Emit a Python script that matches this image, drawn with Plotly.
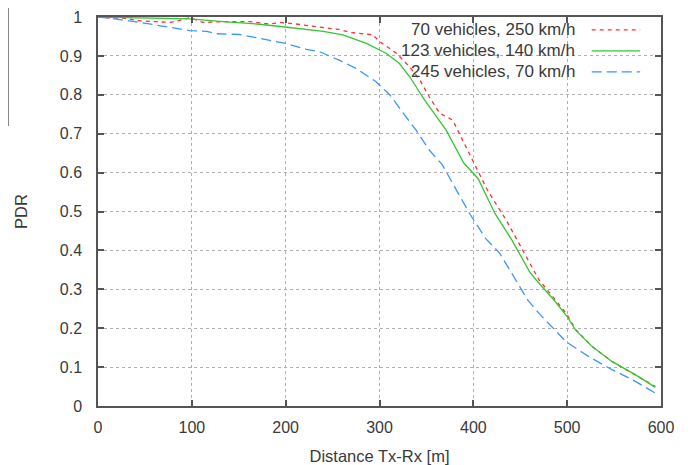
import plotly.graph_objects as go

# ---- data ----
red_x = [0, 10, 27, 45, 62, 77, 90, 98, 112, 133, 162, 183, 194, 211, 240, 257, 270, 282, 293, 300,
         318, 332, 343, 353, 364, 378, 399, 415, 435, 456, 470, 485, 499, 509, 527, 548, 573, 594]
red_y = [1.0, 0.998, 0.997, 0.99, 0.988, 0.986, 0.993, 0.998, 0.986, 0.988, 0.988, 0.982, 0.986, 0.982,
         0.973, 0.968, 0.96, 0.956, 0.954, 0.937, 0.907, 0.872, 0.838, 0.795, 0.753, 0.735, 0.632,
         0.555, 0.478, 0.384, 0.324, 0.28, 0.238, 0.197, 0.152, 0.114, 0.08, 0.05]

green_x = [0, 20, 43, 70, 98, 133, 169, 197, 222, 240, 261, 286, 307, 321, 332, 343, 348, 371, 390,
           405, 423, 441, 460, 467, 485, 500, 509, 527, 548, 573, 594]
green_y = [1.0, 0.999, 0.998, 0.997, 0.995, 0.988, 0.982, 0.975, 0.969, 0.963, 0.954, 0.932, 0.907,
           0.881, 0.847, 0.804, 0.787, 0.709, 0.624, 0.585, 0.495, 0.427, 0.345, 0.324, 0.275, 0.23,
           0.195, 0.152, 0.114, 0.08, 0.048]

blue_x = [0, 9, 45, 98, 116, 126, 151, 176, 200, 222, 236, 257, 275, 296, 311, 328, 339, 353, 367,
          382, 397, 413, 428, 442, 458, 470, 499, 523, 545, 570, 594]
blue_y = [1.0, 0.998, 0.986, 0.965, 0.963, 0.957, 0.955, 0.943, 0.932, 0.917, 0.911, 0.889, 0.868,
          0.834, 0.8, 0.744, 0.709, 0.658, 0.62, 0.555, 0.491, 0.431, 0.393, 0.337, 0.272, 0.238,
          0.165, 0.127, 0.097, 0.067, 0.033]

series_names = ["70 vehicles, 250 km/h", "123 vehicles, 140 km/h", "245 vehicles, 70 km/h"]
series_colors = ["#ff3030", "#33c833", "#3a95ff"]
series_dash = ["4px,4px", "solid", "10px,5px"]

x_ticks = [0, 100, 200, 300, 400, 500, 600]
y_ticks = [0, 0.1, 0.2, 0.3, 0.4, 0.5, 0.6, 0.7, 0.8, 0.9, 1]
y_tick_text = ["0", "0.1", "0.2", "0.3", "0.4", "0.5", "0.6", "0.7", "0.8", "0.9", "1"]

FONT = "Liberation Sans, Arial, sans-serif"
TXT = "#3a3a3a"

fig = go.Figure()
for xs, ys, name, col, dash in zip([red_x, green_x, blue_x], [red_y, green_y, blue_y],
                                   series_names, series_colors, series_dash):
    fig.add_trace(go.Scatter(x=xs, y=ys, mode="lines", name=name,
                             line=dict(color=col, width=1.3, dash=dash),
                             showlegend=False))

axis_common = dict(
    showline=True, linecolor="#555555", linewidth=1.5, mirror="allticks",
    ticks="inside", ticklen=6, tickcolor="#555555", tickwidth=1.5,
    showgrid=True, gridcolor="#b0b0b0", gridwidth=1, griddash="dot",
    zeroline=False, automargin=False, tickfont=dict(family=FONT, size=16, color=TXT),
)

fig.update_xaxes(range=[0, 600], tickvals=x_ticks, ticklabelstandoff=6,
                 title=dict(text="Distance Tx-Rx [m]", font=dict(family=FONT, size=16.5, color=TXT),
                            standoff=21),
                 **axis_common)
fig.update_yaxes(range=[0, 1], tickvals=y_ticks, ticktext=y_tick_text, ticklabelstandoff=11,
                 title=dict(text="PDR", font=dict(family=FONT, size=16.5, color=TXT), standoff=28),
                 **axis_common)

# legend background box (above grid, below traces)
fig.add_shape(type="rect", xref="paper", yref="paper", x0=0.442, x1=0.98, y0=0.825, y1=0.996,
              fillcolor="white", line=dict(width=0), layer="between")

# legend entries: text right-aligned, sample line on the right
row_y = [0.967, 0.913, 0.859]
for name, col, dash, yy in zip(series_names, series_colors, series_dash, row_y):
    fig.add_annotation(x=0.851, y=yy, xref="paper", yref="paper", text=name, showarrow=False,
                       xanchor="right", yanchor="middle",
                       font=dict(family=FONT, size=17, color=TXT))
    fig.add_shape(type="line", xref="paper", yref="paper", x0=0.877, x1=0.963, y0=yy, y1=yy,
                  line=dict(color=col, width=1.3, dash=dash))

# partial frame artifact at top-left of the image
fig.add_shape(type="path", xref="paper", yref="paper",
              path="M -0.1598 1.03 L -0.1598 0.72",
              line=dict(color="#444444", width=1.2))

# the page adds an 8px body margin, so the figure is 8px smaller and the margins shifted
fig.update_layout(
    width=683, height=457,
    margin=dict(l=90, r=30, t=9, b=59, autoexpand=False),
    paper_bgcolor="white", plot_bgcolor="white",
    font=dict(family=FONT, color=TXT),
)

fig.write_html("out.html")
